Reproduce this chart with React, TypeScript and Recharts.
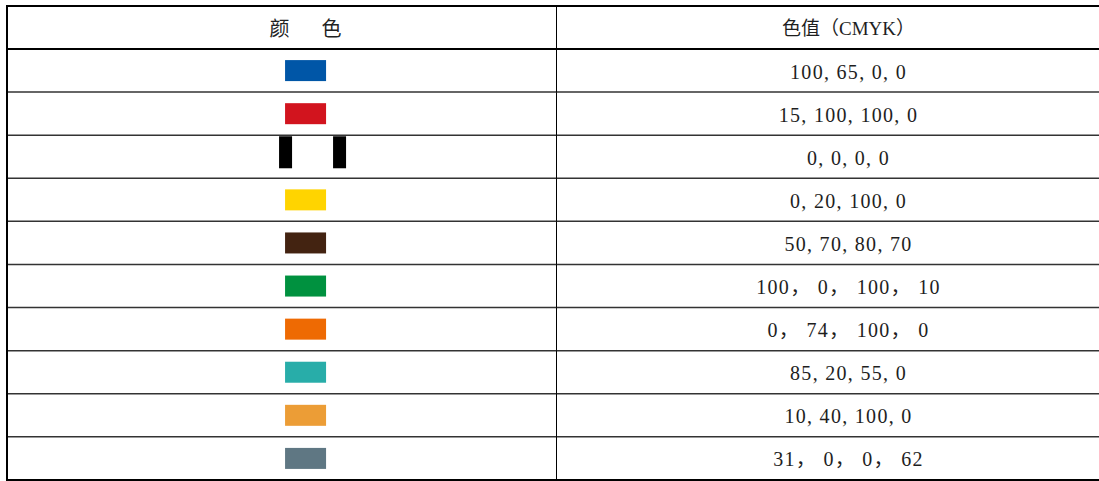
import { ComposedChart, Bar, XAxis, YAxis } from 'recharts'

// table rows: header first, then one row per colour
const headerLabels = ['颜\u3000色', '色值（CMYK）']
const rowNames = ['blue', 'red', 'white', 'yellow', 'brown', 'green', 'orange', 'teal', 'amber', 'slate']
const swatchColors = [
  '#0056A7',
  '#D2141E',
  '#FFFFFF',
  '#FFD400',
  '#432311',
  '#00913F',
  '#EE6A03',
  '#28ADA9',
  '#EC9D36',
  '#5F7783',
]
const cmykValues = [
  '100, 65, 0, 0',
  '15, 100, 100, 0',
  '0, 0, 0, 0',
  '0, 20, 100, 0',
  '50, 70, 80, 70',
  '100， 0， 100， 10',
  '0， 74， 100， 0',
  '85, 20, 55, 0',
  '10, 40, 100, 0',
  '31， 0， 0， 62',
]

// column widths (the second column runs past the right edge of the picture)
const COL1 = 548
const COL2 = 585
const SWATCH_POS = 0.543
const SWATCH_W = 41
const SWATCH_H = 21

const rows = [
  { row: 'header', c1: COL1, c2: COL2, left: headerLabels[0], right: headerLabels[1], color: null as string | null },
  ...rowNames.map((name, i) => ({
    row: name,
    c1: COL1,
    c2: COL2,
    left: '',
    right: cmykValues[i],
    color: swatchColors[i],
  })),
]

const TEXT_FONT = '"Liberation Serif", "Noto Sans CJK SC", serif'
const CJK_FONT = '"Noto Sans CJK SC", "Liberation Serif", serif'

function rowLines(x: number, y: number, width: number, height: number, index: number) {
  const last = index === rows.length - 1
  const heavyBottom = index === 0 || last
  return (
    <>
      {index === 0 && <line x1={x} x2={x + width} y1={y} y2={y} stroke="#000" strokeWidth={2} />}
      <line
        x1={x}
        x2={x + width}
        y1={y + height}
        y2={y + height}
        stroke={heavyBottom ? '#000' : '#333'}
        strokeWidth={heavyBottom ? 2 : 1.5}
      />
    </>
  )
}

function SwatchCell(props: any) {
  const { x, y, width, height, index, payload } = props
  const cx = x + width * SWATCH_POS
  const cy = y + height / 2
  const color = payload.color
  return (
    <g>
      {rowLines(x, y, width, height, index)}
      <line x1={x - 1} x2={x - 1} y1={y - 1} y2={y + height + 1} stroke="#000" strokeWidth={2} />
      {index === 0 && (
        <text
          x={cx + 3}
          y={cy}
          textAnchor="middle"
          dominantBaseline="central"
          fontFamily={CJK_FONT}
          fontSize={20}
          letterSpacing={6}
          fill="#222"
        >
          {payload.left}
        </text>
      )}
      {color && color.toUpperCase() === '#FFFFFF' ? (
        <>
          <rect x={cx - 26.5} y={y + 1} width={13} height={height - 11} fill="#000" />
          <rect x={cx + 27.5} y={y + 1} width={13} height={height - 11} fill="#000" />
        </>
      ) : color ? (
        <rect x={cx - SWATCH_W / 2} y={cy - SWATCH_H / 2} width={SWATCH_W} height={SWATCH_H} fill={color} />
      ) : null}
    </g>
  )
}

function ValueCell(props: any) {
  const { x, y, width, height, index, payload } = props
  const cx = x + width / 2
  const cy = y + height / 2
  const header = index === 0
  return (
    <g>
      {rowLines(x, y, width, height, index)}
      <line x1={x + 0.5} x2={x + 0.5} y1={y} y2={y + height} stroke="#000" strokeWidth={1} />
      <text
        x={cx}
        y={cy + 1}
        textAnchor="middle"
        dominantBaseline="central"
        fontFamily={TEXT_FONT}
        fontSize={header ? 19 : 20}
        letterSpacing={header ? 0 : 1.3}
        fill="#1e1e1e"
      >
        {payload.right}
      </text>
    </g>
  )
}

export default function App() {
  return (
    <div
      style={{
        position: 'absolute',
        left: 0,
        top: 0,
        width: 1099,
        height: 481,
        overflow: 'hidden',
        background: '#fff',
      }}
    >
      <ComposedChart
        width={1142}
        height={481}
        data={rows}
        layout="vertical"
        margin={{ top: 6, right: 1, left: 8, bottom: 1 }}
        barCategoryGap={0}
        barGap={0}
      >
        <XAxis type="number" domain={[0, COL1 + COL2]} hide />
        <YAxis type="category" dataKey="row" hide />
        <Bar dataKey="c1" stackId="t" shape={SwatchCell} isAnimationActive={false} />
        <Bar dataKey="c2" stackId="t" shape={ValueCell} isAnimationActive={false} />
      </ComposedChart>
    </div>
  )
}
